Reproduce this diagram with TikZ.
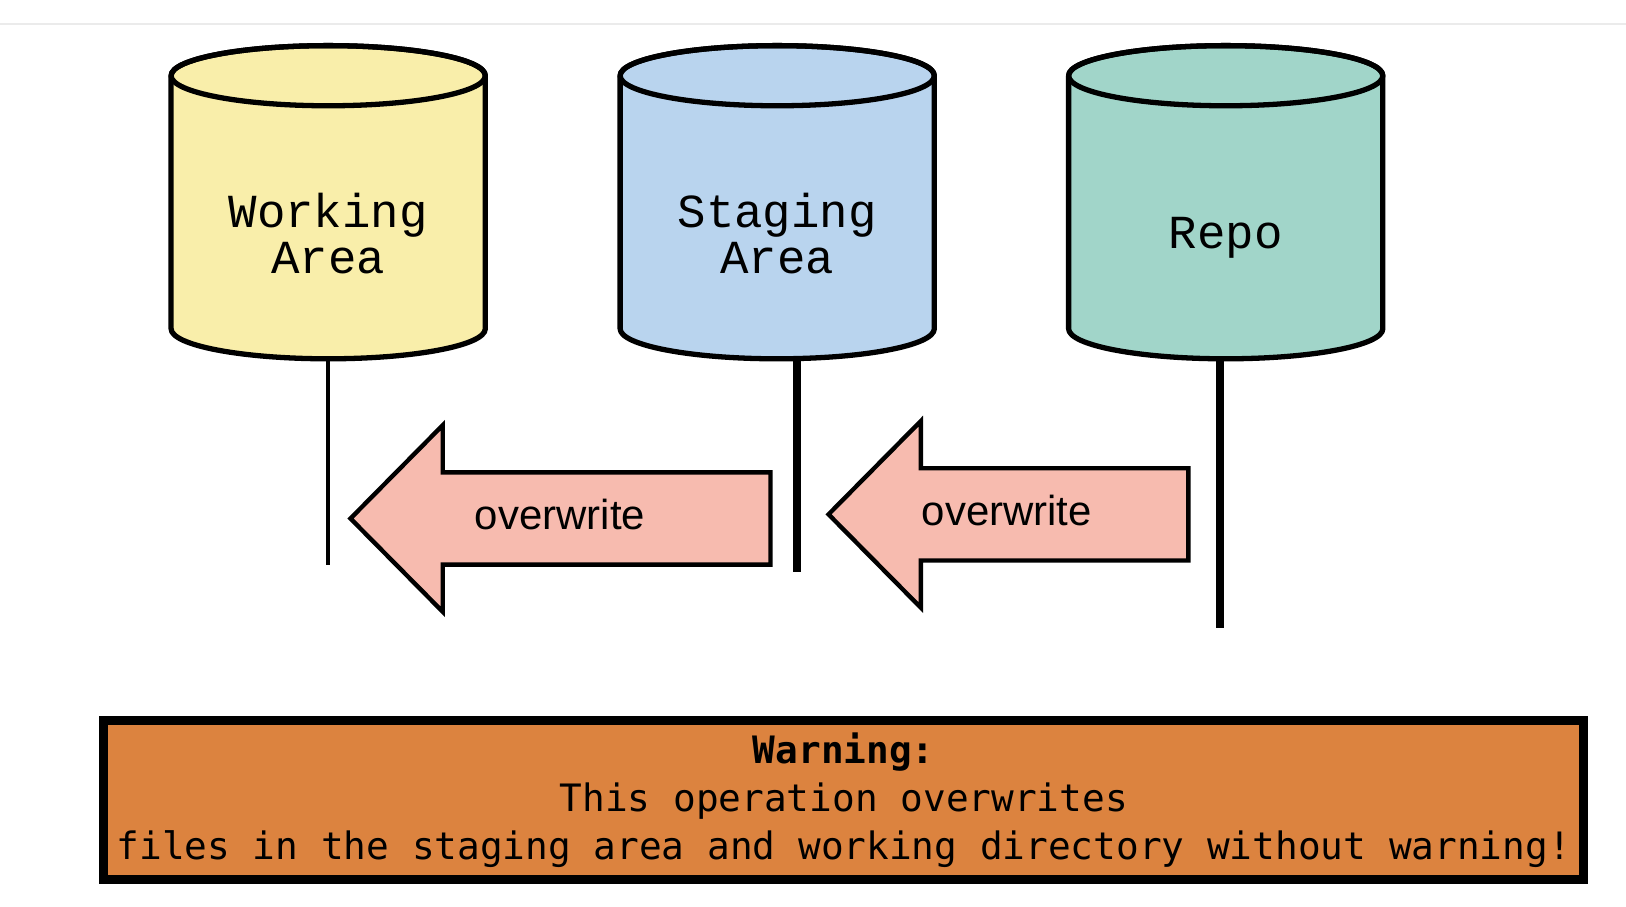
\documentclass[tikz,border=0pt]{standalone}
\usepackage{fontspec}
\usepackage{xcolor}
\usepackage{tikz}
\newfontfamily\cylfont{Liberation Mono}
\newfontfamily\arrowfont{Liberation Sans}
\newfontfamily\warnfont{DejaVu Sans Mono}
\definecolor{workfill}{HTML}{F9EEAA}
\definecolor{stagefill}{HTML}{B9D4EE}
\definecolor{repofill}{HTML}{A1D5C9}
\definecolor{arrowfill}{HTML}{F7BBAF}
\definecolor{warnfill}{HTML}{DC833F}

\begin{document}
\begin{tikzpicture}[x=0.01cm, y=0.01cm,
	cyl/.style={line width=1.45pt, line join=round},
	cyltext/.style={align=center, inner sep=0pt, font=\cylfont\fontsize{13pt}{12.5pt}\selectfont},
	bigarrow/.style={line width=1.2pt, fill=arrowfill, line join=miter},
	arrowtext/.style={inner sep=0pt, font=\arrowfont\fontsize{11.5pt}{13pt}\selectfont},
	warnbox/.style={draw, line width=2.5pt, fill=warnfill, inner sep=0pt, minimum width=14.265cm, minimum height=1.54cm, align=center, font=\warnfont\fontsize{10.35pt}{13.1pt}\selectfont}]

	\useasboundingbox (0,0) rectangle (1568,-873.7);
	\draw[black!8, line width=0.6pt] (0,-23) -- (1568,-23);

	% the three areas
	\foreach \cx/\col/\nm/\txt/\ty in {316.5/workfill/wa/{Working\\Area}/225, 749.5/stagefill/sa/{Staging\\Area}/225, 1182/repofill/rp/{Repo}/229} {
		\filldraw[cyl, fill=\col] (\cx-151.5,-73) -- (\cx-151.5,-317) arc[start angle=180, end angle=360, x radius=151.5, y radius=29] -- (\cx+151.5,-73) arc[start angle=0, end angle=180, x radius=151.5, y radius=29] -- cycle;
		\draw[cyl] (\cx,-73) ellipse [x radius=151.5, y radius=29];
		\node[cyltext] (\nm) at (\cx,-\ty) {\txt};
	}

	\coordinate (wa foot) at (316,-346);
	\coordinate (wa end) at (316,-545);
	\coordinate (sa foot) at (768.5,-346);
	\coordinate (sa end) at (768.5,-552);
	\coordinate (rp foot) at (1176.5,-346);
	\coordinate (rp end) at (1176.5,-606);
	\draw[line width=1.1pt] (wa foot) -- (wa end);
	\draw[line width=2.2pt] (sa foot) -- (sa end);
	\draw[line width=2.4pt] (rp foot) -- (rp end);

	% overwrite arrows
	\foreach \tx/\ty/\rx/\lx/\nm in {338/500/743/540/ow1, 799/496/1146/971/ow2} {
		\filldraw[bigarrow] (\tx,-\ty) -- (\tx+89,-\ty+90) -- (\tx+89,-\ty+44.5) -- (\rx,-\ty+44.5) -- (\rx,-\ty-44.5) -- (\tx+89,-\ty-44.5) -- (\tx+89,-\ty-90) -- cycle;
		\node[arrowtext] (\nm) at (\lx,-\ty+4) {overwrite};
	}

	\node[warnbox] (warn) at (813.7,-771.5) {\textbf{Warning:}\\This operation overwrites\\files in the staging area and working directory without warning!};

\end{tikzpicture}
\end{document}
